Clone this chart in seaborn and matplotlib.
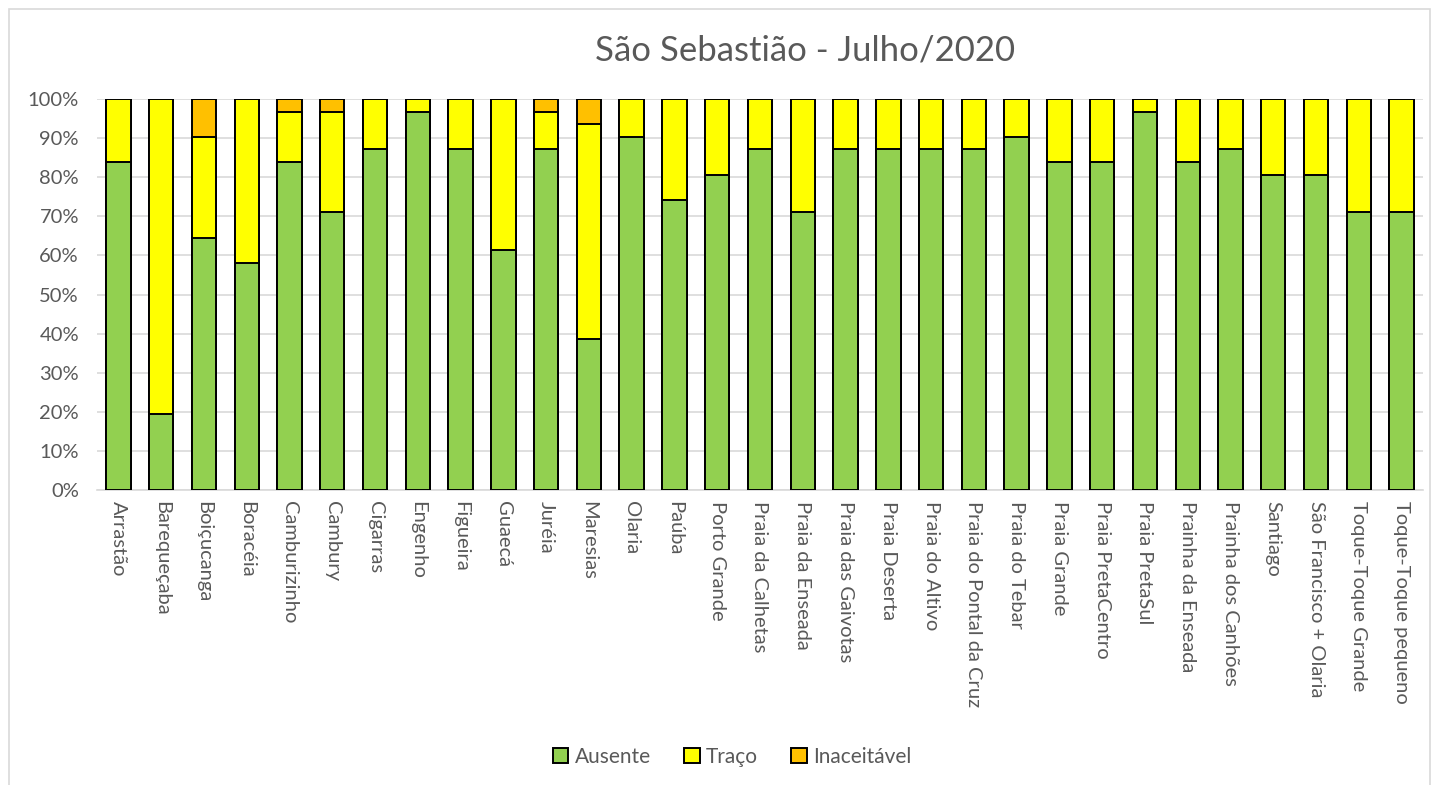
import matplotlib
matplotlib.use("Agg")
import matplotlib.pyplot as plt
import seaborn as sns
import numpy as np
from matplotlib.patches import Patch, Rectangle
from matplotlib.ticker import FuncFormatter

categories = ["Arrastão", "Barequeçaba", "Boiçucanga", "Boracéia", "Camburizinho",
              "Cambury", "Cigarras", "Engenho", "Figueira", "Guaecá", "Juréia",
              "Maresias", "Olaria", "Paúba", "Porto Grande", "Praia da Calhetas",
              "Praia da Enseada", "Praia das Gaivotas", "Praia Deserta", "Praia do Altivo",
              "Praia do Pontal da Cruz", "Praia do Tebar", "Praia Grande",
              "Praia PretaCentro", "Praia PretaSul", "Prainha da Enseada",
              "Prainha dos Canhões", "Santiago", "São Francisco + Olaria",
              "Toque-Toque Grande", "Toque-Toque pequeno"]

ausente = [83.9, 19.4, 64.5, 58.1, 83.9, 71.0, 87.1, 96.8, 87.1, 61.3, 87.1,
           38.7, 90.3, 74.2, 80.6, 87.1, 71.0, 87.1, 87.1, 87.1, 87.1, 90.3,
           83.9, 83.9, 96.8, 83.9, 87.1, 80.6, 80.6, 71.0, 71.0]
traco = [16.1, 80.6, 25.8, 41.9, 12.9, 25.8, 12.9, 3.2, 12.9, 38.7, 9.7,
         54.8, 9.7, 25.8, 19.4, 12.9, 29.0, 12.9, 12.9, 12.9, 12.9, 9.7,
         16.1, 16.1, 3.2, 16.1, 12.9, 19.4, 19.4, 29.0, 29.0]
inaceitavel = [0, 0, 9.7, 0, 3.2, 3.2, 0, 0, 0, 0, 3.2,
               6.5, 0, 0, 0, 0, 0, 0, 0, 0, 0, 0,
               0, 0, 0, 0, 0, 0, 0, 0, 0]

series_names = ["Ausente", "Traço", "Inaceitável"]
colors = ["#92D050", "#FFFF00", "#FFC000"]

sns.set_theme(style="white")
plt.rcParams['font.family'] = ['Lato', 'DejaVu Sans']
text_color = "#595959"

fig = plt.figure(figsize=(14.37, 7.85), dpi=100)
ax = fig.add_axes([97/1437, 1 - 490/785, (1423-97)/1437, (490-99)/785])

a = np.array(ausente)
t = np.array(traco)
i = np.array(inaceitavel)
tot = a + t + i
layers = [(a + t + i) / tot * 100, (a + t) / tot * 100, a / tot * 100]
layer_colors = [colors[2], colors[1], colors[0]]

for vals, col in zip(layers, layer_colors):
    sns.barplot(x=categories, y=vals, color=col, saturation=1, width=0.57,
                edgecolor="black", linewidth=1.4, ax=ax, zorder=3)

ax.set_ylim(0, 100)
ax.set_xlim(-0.5, len(categories) - 0.5)
ax.set_yticks(np.arange(0, 101, 10))
ax.yaxis.set_major_formatter(FuncFormatter(lambda v, p: f"{int(v)}%"))
ax.grid(axis="y", color="#D9D9D9", linewidth=1.2, zorder=0)
ax.set_axisbelow(True)
for s in ["top", "right", "left"]:
    ax.spines[s].set_visible(False)
ax.spines["bottom"].set_color("#D9D9D9")
ax.spines["bottom"].set_linewidth(1.2)
ax.tick_params(axis="y", length=0, colors=text_color, labelsize=14.5, pad=13)
ax.tick_params(axis="x", length=0, colors=text_color, labelsize=14.5, pad=8)
for lbl in ax.get_xticklabels():
    lbl.set_rotation(-90)
    lbl.set_ha("center")
    lbl.set_va("top")
ax.set_xlabel("")
ax.set_ylabel("")

fig.text(805/1437, 1 - 50/785, "São Sebastião - Julho/2020", ha="center", va="center",
         fontsize=25, color=text_color)

handles = [Patch(facecolor=c, edgecolor="black", linewidth=1.4, label=n)
           for c, n in zip(colors, series_names)]
fig.legend(handles=handles, loc="center", bbox_to_anchor=(732/1437, 1 - 757/785),
           ncol=3, frameon=False, fontsize=15, handlelength=0.75, handleheight=0.75,
           handletextpad=0.3, columnspacing=1.6, labelcolor=text_color)

fig.patches.append(Rectangle((9/1437, -0.01), (1430-9)/1437, 1.01 - 9/785,
                             transform=fig.transFigure, fill=False,
                             edgecolor="#D9D9D9", linewidth=1.2))

fig.savefig("out.png", dpi=100)
